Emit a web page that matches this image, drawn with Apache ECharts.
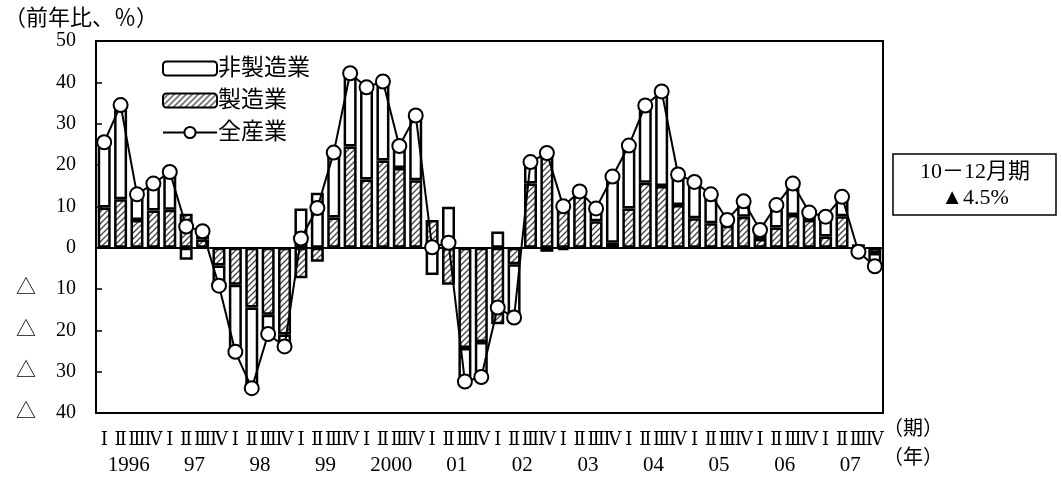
<!DOCTYPE html>
<html><head><meta charset="utf-8">
<script src="https://cdn.jsdelivr.net/npm/echarts@6/dist/echarts.min.js"></script>
<style>html,body{margin:0;padding:0;background:#fff}#c{width:1062px;height:496px}</style>
</head><body><div id="c"></div>
<script>
const years = ['1996','97','98','99','2000','01','02','03','04','05','06','07'];
const quarterNames = ['Ⅰ','Ⅱ','Ⅲ','Ⅳ'];
const yTicks = [-40,-30,-20,-10,0,10,20,30,40,50];
const manufacturing = [9.7, 11.7, 6.7, 9.0, 9.2, 8.2, 2.0, -4.3,
 -9.0, -14.5, -16.2, -21.0, -7.4, -3.4, 7.3, 24.5,
 16.5, 21.1, 19.3, 16.3, 6.7, -9.0, -24.3, -22.8,
 -18.5, -4.0, 15.5, 23.6, 10.6, 12.7, 6.4, 1.2,
 9.5, 15.7, 14.9, 10.3, 7.1, 5.9, 5.3, 7.5,
 2.1, 4.9, 7.9, 6.7, 2.7, 7.6, 0.8, -1.3];
const nonManufacturing = [15.8, 22.8, 6.5, 6.5, 9.1, -2.9, 2.2, -4.9,
 -16.3, -19.6, -4.6, -2.8, 9.5, 13.3, 15.7, 17.7,
 22.3, 19.3, 5.3, 15.7, -6.6, 9.9, -8.2, -8.6,
 3.9, -12.8, 5.3, -1.0, -0.6, 0.9, 3.4, 15.9,
 15.2, 18.7, 22.9, 7.4, 8.8, 7.0, 1.4, 3.7,
 2.2, 5.4, 7.6, 1.8, 4.8, 4.7, -1.8, -3.2];
const allIndustries = [25.5, 34.5, 12.9, 15.5, 18.3, 5.1, 4.0, -9.2,
 -25.2, -34.0, -20.9, -23.9, 2.2, 9.6, 23.0, 42.2,
 38.8, 40.2, 24.6, 32.0, 0.1, 1.2, -32.4, -31.3,
 -14.5, -16.9, 20.7, 22.9, 10.0, 13.6, 9.5, 17.2,
 24.7, 34.4, 37.8, 17.7, 15.9, 12.9, 6.7, 11.2,
 4.3, 10.3, 15.5, 8.5, 7.5, 12.3, -1.0, -4.5];

const categories = [];
years.forEach(y => quarterNames.forEach(q => categories.push(y + '-' + q)));

function hatch() {
  const s = 6;
  const cv = document.createElement('canvas');
  cv.width = s; cv.height = s;
  const ctx = cv.getContext('2d');
  ctx.fillStyle = '#ffffff'; ctx.fillRect(0, 0, s, s);
  ctx.strokeStyle = '#444'; ctx.lineWidth = 1.3;
  ctx.beginPath();
  ctx.moveTo(0, s); ctx.lineTo(s, 0);
  ctx.moveTo(-1, 1); ctx.lineTo(1, -1);
  ctx.moveTo(s - 1, s + 1); ctx.lineTo(s + 1, s - 1);
  ctx.stroke();
  return cv;
}

const FONT = '"Liberation Serif", "Noto Sans CJK JP", serif';
const ROMAN = '"DejaVu Serif", "Liberation Serif", serif';
const chart = echarts.init(document.getElementById('c'), null, {renderer: 'canvas'});
chart.setOption({
  animation: false,
  backgroundColor: '#fff',
  textStyle: {fontFamily: FONT, color: '#000'},
  grid: {left: 96, right: 179, top: 41, bottom: 83, show: true, borderColor: '#000', borderWidth: 2, backgroundColor: 'transparent'},
  legend: {
    orient: 'vertical', left: 157, top: 52, itemWidth: 54, itemHeight: 14, itemGap: 9,
    data: ['非製造業', '製造業', '全産業'],
    textStyle: {fontFamily: FONT, fontSize: 23, color: '#000', padding: [0,0,0,-4]}
  },
  xAxis: [{
    type: 'category', data: categories, position: 'bottom',
    axisLine: {onZero: false, lineStyle: {color: '#000', width: 2}},
    axisTick: {show: false},
    axisLabel: {interval: 0, margin: 18, fontSize: 18, color: '#000', fontFamily: ROMAN,
      formatter: (v) => v.split('-')[1]}
  }, {
    type: 'category', data: years, position: 'bottom', offset: 34,
    axisLine: {show: false}, axisTick: {show: false},
    axisLabel: {interval: 0, margin: 8, fontSize: 21, color: '#000', fontFamily: FONT}
  }],
  yAxis: {
    type: 'value', min: -40, max: 50, interval: 10,
    axisLine: {show: true, lineStyle: {color: '#000', width: 2}},
    axisTick: {show: true, inside: true, length: 6, lineStyle: {color: '#000', width: 1.5}},
    splitLine: {show: false},
    axisLabel: {margin: 20, fontSize: 20, color: '#000', fontFamily: FONT,
      formatter: (v) => v < 0 ? '△　' + (-v) : String(v)}
  },
  series: [{
    name: '製造業', type: 'bar', stack: 'total', data: manufacturing, barWidth: 13,
    itemStyle: {color: {image: hatch(), repeat: 'repeat'}, borderColor: '#000', borderWidth: 2.5},
    markLine: {silent: true, symbol: 'none', label: {show: false},
      lineStyle: {color: '#000', width: 2, type: 'solid'}, data: [{yAxis: 0}]}
  }, {
    name: '非製造業', type: 'bar', stack: 'total', data: nonManufacturing, barWidth: 13,
    itemStyle: {color: '#fff', borderColor: '#000', borderWidth: 2.5}
  }, {
    name: '全産業', type: 'line', data: allIndustries, z: 5,
    symbol: 'circle', symbolSize: 14,
    lineStyle: {color: '#000', width: 2},
    itemStyle: {color: '#fff', borderColor: '#000', borderWidth: 2}
  }],
  graphic: [
    {type: 'text', left: 4, top: 8, style: {text: '（前年比、％）', font: '22px ' + FONT, fill: '#000'}},
    {type: 'text', left: 883, top: 420, style: {text: '（期）', font: '20px ' + FONT, fill: '#000'}},
    {type: 'text', left: 883, top: 449, style: {text: '（年）', font: '20px ' + FONT, fill: '#000'}},
    {type: 'rect', shape: {x: 893, y: 154, width: 163, height: 61}, style: {fill: '#fff', stroke: '#000', lineWidth: 1.5}},
    {type: 'text', x: 975, y: 172, style: {text: '10－12月期', font: '22px ' + FONT, fill: '#000', align: 'center', verticalAlign: 'middle'}},
    {type: 'text', x: 975, y: 198, style: {text: '▲4.5%', font: '22px ' + FONT, fill: '#000', align: 'center', verticalAlign: 'middle'}}
  ]
});
</script></body></html>
